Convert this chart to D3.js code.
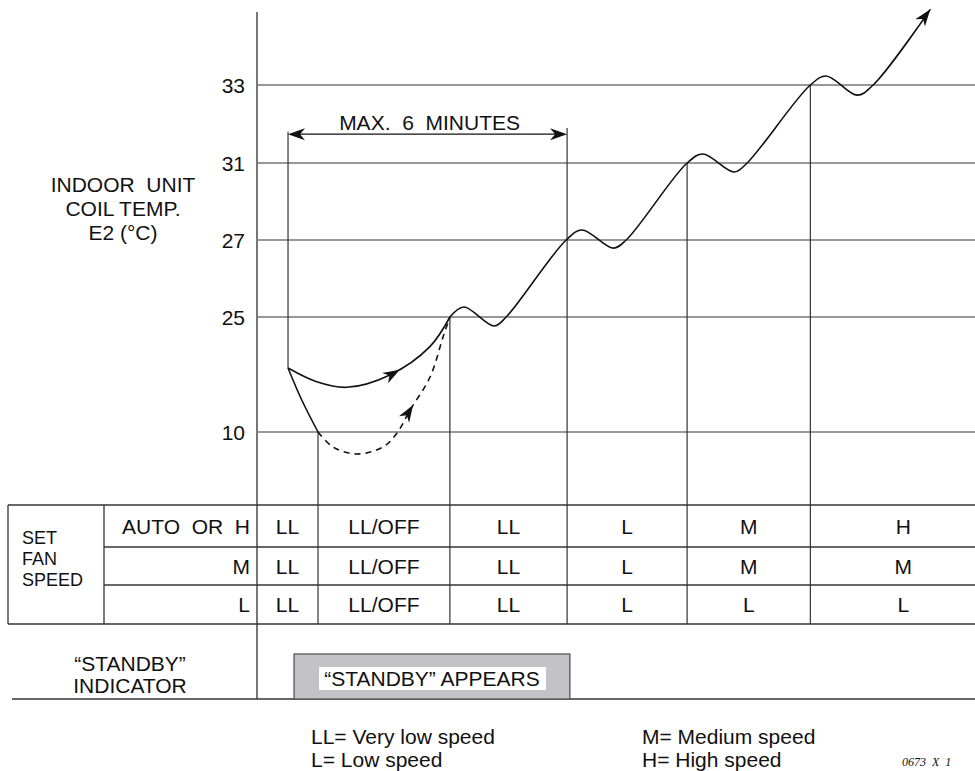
<!DOCTYPE html>
<html>
<head>
<meta charset="utf-8">
<script src="https://cdn.jsdelivr.net/npm/d3@7"></script>
<style>
body { margin: 0; background: #fff; }
svg { display: block; font-family: "Liberation Sans", Arial, Helvetica, sans-serif; }
text { white-space: pre; fill: #111; }
</style>
</head>
<body>
<script>
const WIDTH_SVG = 975;
const HEIGHT_SVG = 771;

// ---- data (minutes after start, coil temp in °C) ----
const tempTicks = [10, 25, 27, 31, 33];

// fan stage boundaries in minutes
const stageEdges = [-0.667, 0.645, 3.48, 6.0, 8.58, 11.23, 15.23];

const fanSettings = ["AUTO  OR  H", "M", "L"];
const speedAutoH = ["LL", "LL/OFF", "LL", "L", "M", "H"];
const speedM = ["LL", "LL/OFF", "LL", "L", "M", "M"];
const speedL = ["LL", "LL/OFF", "LL", "L", "L", "L"];

// solid warm-up curve
const warmMin = [0, 0.617, 1.262, 2.19, 3.05, 3.48];
const warmTemp = [18.35, 16.56, 15.83, 17.44, 21.13, 25];

// drop from start to 10 °C
const dropMin = [0, 0.295, 0.645];
const dropTemp = [18.35, 14.17, 10];

// dashed curve from 10 °C
const dashMin = [0.645, 0.968, 1.484, 2.043, 2.344, 2.624, 3.054, 3.333, 3.48];
const dashTemp = [10, 8.04, 7.13, 8.04, 9.87, 12.87, 17.17, 22.39, 25];

// rising curve with the small overshoots at each step
const riseMin = [3.48, 3.78, 4.43, 4.69, 5.98, 6.32, 6.99, 7.27, 8.58, 8.92, 9.59, 9.87, 11.23, 11.57, 12.24, 12.58, 13.81];
const riseTemp = [25, 25.26, 23.83, 25, 27, 27.52, 26.79, 27, 31, 31.23, 30.53, 31, 33, 33.23, 32.74, 33, 34.94];

// vertical guides: minute, top temp
const guideMin = [0.645, 3.48, 6.0, 8.58, 11.23];
const guideTop = [10, 25, 31.9, 31, 33];

const maxSpan = [0, 6];           // "MAX. 6 MINUTES"
const standbySpan = [0.13, 6.06]; // "STANDBY" APPEARS

const legendLeft = ["LL= Very low speed", "L= Low speed"];
const legendRight = ["M= Medium speed", "H= High speed"];

// ---- layout ----
const AXIS_X = 257;
const AXIS_TOP = 12;
const ROW_LINES = [505, 547, 585, 624];
const TABLE_LEFT = 8;
const LABEL_COL = 104;
const STANDBY_BOTTOM = 699;
const FONT = 21;

const svg = d3.select("body")
    .append("svg")
        .attr("width", WIDTH_SVG)
        .attr("height", HEIGHT_SVG)
        .attr("viewBox", `0 0 ${WIDTH_SVG} ${HEIGHT_SVG}`);

const x = d3.scaleLinear().domain([-0.667, 14.77]).range([AXIS_X, WIDTH_SVG]);
const y = d3.scaleLinear().domain([10, 25, 27, 31, 33, 35]).range([432, 317, 240, 163, 85, 7]);

const GRID = "#333";

// grid lines
svg.append("g")
    .selectAll("line")
    .data(tempTicks)
    .join("line")
        .attr("x1", AXIS_X).attr("x2", WIDTH_SVG)
        .attr("y1", d => y(d)).attr("y2", d => y(d))
        .attr("stroke", GRID).attr("stroke-width", 1.2);

// tick labels
svg.append("g")
    .selectAll("text")
    .data(tempTicks)
    .join("text")
        .attr("x", 245)
        .attr("y", d => y(d))
        .attr("dy", "0.36em")
        .attr("text-anchor", "end")
        .attr("font-size", FONT)
        .text(d => d);

// y label
["INDOOR  UNIT", "COIL TEMP.", "E2 (°C)"].forEach((t, i) => {
    svg.append("text")
        .attr("x", 123).attr("y", 192 + i * 24)
        .attr("text-anchor", "middle")
        .attr("font-size", FONT)
        .text(t);
});

// vertical guides down to table bottom
guideMin.forEach((m, i) => {
    svg.append("line")
        .attr("x1", x(m)).attr("x2", x(m))
        .attr("y1", y(guideTop[i])).attr("y2", ROW_LINES[3])
        .attr("stroke", GRID).attr("stroke-width", 1.2);
});
// guide at start, ends at the curve
svg.append("line")
    .attr("x1", x(0)).attr("x2", x(0))
    .attr("y1", y(31.8)).attr("y2", y(warmTemp[0]))
    .attr("stroke", GRID).attr("stroke-width", 1.2);

// axis
svg.append("line")
    .attr("x1", AXIS_X).attr("x2", AXIS_X)
    .attr("y1", AXIS_TOP).attr("y2", STANDBY_BOTTOM)
    .attr("stroke", "#777").attr("stroke-width", 2);

// ---- curves ----
const line = d3.line()
    .x(d => x(d[0]))
    .y(d => y(d[1]))
    .curve(d3.curveCatmullRom.alpha(0.5));

function drawCurve(mins, temps, dashed) {
    return svg.append("path")
        .attr("d", line(d3.zip(mins, temps)))
        .attr("fill", "none")
        .attr("stroke", "#111")
        .attr("stroke-width", 1.6)
        .attr("stroke-dasharray", dashed ? "6,5" : null);
}

function arrowHead(px, py, angle) {
    const L = 17, W = 6, N = 12;
    svg.append("path")
        .attr("d", `M0,0 L${-L},${-W} L${-N},0 L${-L},${W} Z`)
        .attr("transform", `translate(${px},${py}) rotate(${angle})`)
        .attr("fill", "#111");
}

// arrowhead on a path at the point whose x is closest to targetX
function arrowOnPath(path, targetX) {
    const node = path.node();
    const len = node.getTotalLength();
    let best = 0, bestD = Infinity;
    for (let s = 0; s <= len; s += 0.5) {
        const p = node.getPointAtLength(s);
        const d = Math.abs(p.x - targetX);
        if (d < bestD) { bestD = d; best = s; }
    }
    const p = node.getPointAtLength(best);
    const q = node.getPointAtLength(Math.max(0, best - 3));
    const angle = Math.atan2(p.y - q.y, p.x - q.x) * 180 / Math.PI;
    arrowHead(p.x, p.y, angle);
}

const warm = drawCurve(warmMin, warmTemp, false);
drawCurve(dropMin, dropTemp, false);
const dash = drawCurve(dashMin, dashTemp, true);
drawCurve(riseMin, riseTemp, false);

arrowOnPath(warm, 400);
arrowOnPath(dash, 413);
{
    const n = riseMin.length;
    const px = x(riseMin[n - 1]), py = y(riseTemp[n - 1]);
    const qx = x(riseMin[n - 2]), qy = y(riseTemp[n - 2]);
    arrowHead(px, py, Math.atan2(py - qy, px - qx) * 180 / Math.PI);
}

// MAX. 6 MINUTES
const spanY = y(31.74);
svg.append("line")
    .attr("x1", x(maxSpan[0]) + 4).attr("x2", x(maxSpan[1]) - 4)
    .attr("y1", spanY).attr("y2", spanY)
    .attr("stroke", "#111").attr("stroke-width", 1.2);
arrowHead(x(maxSpan[0]), spanY, 180);
arrowHead(x(maxSpan[1]), spanY, 0);
svg.append("text")
    .attr("x", (x(maxSpan[0]) + x(maxSpan[1])) / 2 + 2)
    .attr("y", spanY - 4)
    .attr("text-anchor", "middle")
    .attr("font-size", FONT)
    .text("MAX.  6  MINUTES");

// ---- fan speed table ----
const T = "#333";
function hline(x1, x2, yy) {
    svg.append("line").attr("x1", x1).attr("x2", x2).attr("y1", yy).attr("y2", yy)
        .attr("stroke", T).attr("stroke-width", 1.3);
}
function vline(xx, y1, y2) {
    svg.append("line").attr("x1", xx).attr("x2", xx).attr("y1", y1).attr("y2", y2)
        .attr("stroke", T).attr("stroke-width", 1.3);
}
hline(TABLE_LEFT, WIDTH_SVG, ROW_LINES[0]);
hline(LABEL_COL, WIDTH_SVG, ROW_LINES[1]);
hline(LABEL_COL, WIDTH_SVG, ROW_LINES[2]);
hline(TABLE_LEFT, WIDTH_SVG, ROW_LINES[3]);
vline(TABLE_LEFT, ROW_LINES[0], ROW_LINES[3]);
vline(LABEL_COL, ROW_LINES[0], ROW_LINES[3]);

["SET", "FAN", "SPEED"].forEach((t, i) => {
    svg.append("text")
        .attr("x", 22).attr("y", 544 + i * 21)
        .attr("font-size", 18)
        .text(t);
});

const speedRows = [speedAutoH, speedM, speedL];
speedRows.forEach((row, r) => {
    const cy = (ROW_LINES[r] + ROW_LINES[r + 1]) / 2;
    svg.append("text")
        .attr("x", 250).attr("y", cy).attr("dy", "0.36em")
        .attr("text-anchor", "end")
        .attr("font-size", FONT)
        .text(fanSettings[r]);
    svg.append("g")
        .selectAll("text")
        .data(row)
        .join("text")
            .attr("x", (d, i) => (x(stageEdges[i]) + x(stageEdges[i + 1])) / 2)
            .attr("y", cy).attr("dy", "0.36em")
            .attr("text-anchor", "middle")
            .attr("font-size", FONT)
            .text(d => d);
});

// ---- standby indicator row ----
hline(12, WIDTH_SVG, STANDBY_BOTTOM);
["\u201CSTANDBY\u201D", "INDICATOR"].forEach((t, i) => {
    svg.append("text")
        .attr("x", 130).attr("y", 671 + i * 22)
        .attr("text-anchor", "middle")
        .attr("font-size", FONT)
        .text(t);
});
svg.append("rect")
    .attr("x", x(standbySpan[0])).attr("y", 654)
    .attr("width", x(standbySpan[1]) - x(standbySpan[0]))
    .attr("height", STANDBY_BOTTOM - 654)
    .attr("fill", "#c3c3c7")
    .attr("stroke", "#555").attr("stroke-width", 1.3);
svg.append("rect")
    .attr("x", 319).attr("y", 667).attr("width", 227).attr("height", 23)
    .attr("fill", "#fff");
svg.append("text")
    .attr("x", 432).attr("y", 686)
    .attr("text-anchor", "middle")
    .attr("font-size", FONT)
    .text("\u201CSTANDBY\u201D APPEARS");

// ---- legend ----
legendLeft.forEach((t, i) => {
    svg.append("text").attr("x", 311).attr("y", 744 + i * 23)
        .attr("font-size", FONT).text(t);
});
legendRight.forEach((t, i) => {
    svg.append("text").attr("x", 642).attr("y", 744 + i * 23)
        .attr("font-size", FONT).text(t);
});

svg.append("text")
    .attr("x", 902).attr("y", 766)
    .attr("font-family", "'Liberation Serif', 'Times New Roman', serif")
    .attr("font-style", "italic")
    .attr("font-size", 12)
    .text("0673  X  1");
</script>
</body>
</html>
